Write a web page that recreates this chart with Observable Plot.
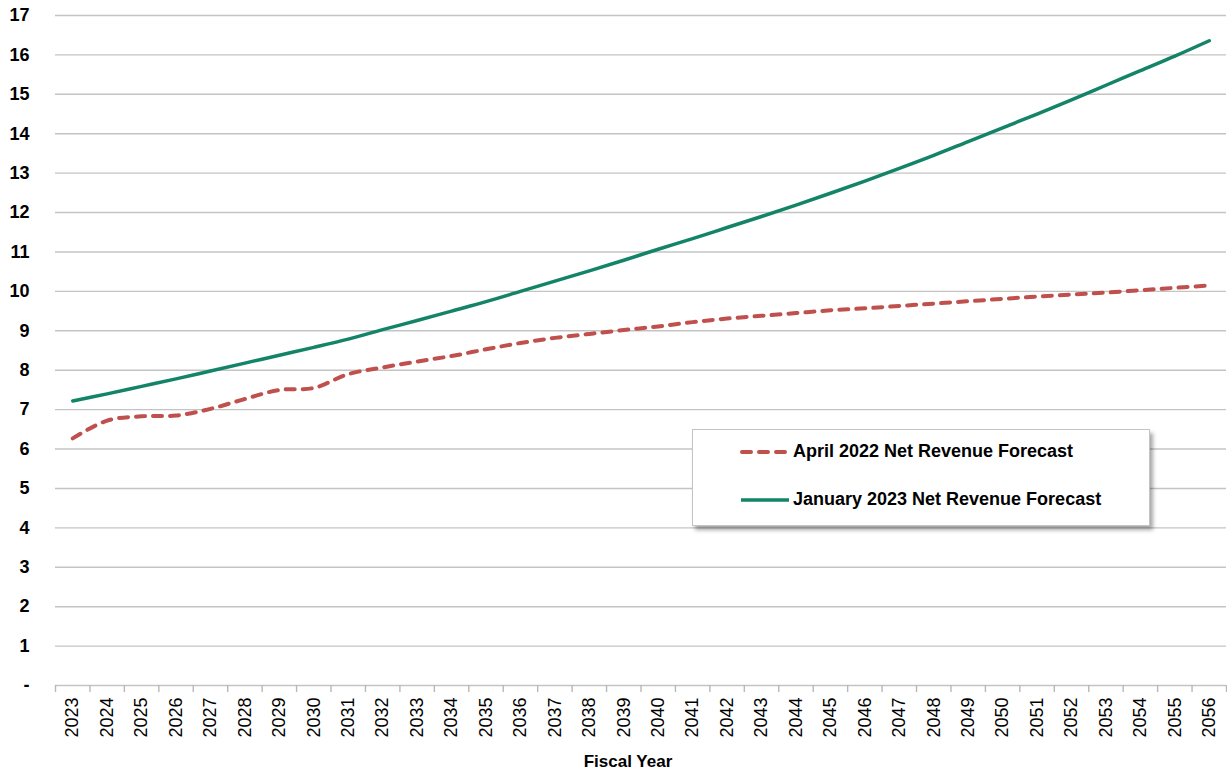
<!DOCTYPE html>
<html>
<head>
<meta charset="utf-8">
<script src="https://cdn.jsdelivr.net/npm/d3@7"></script>
<script src="https://cdn.jsdelivr.net/npm/@observablehq/plot@0.6"></script>
<style>
  html, body { margin: 0; padding: 0; background: #fff; }
  #wrap { position: relative; width: 1227px; height: 779px; font-family: "Liberation Sans", Arial, sans-serif; }
  #legend { position: absolute; left: 692px; top: 429px; width: 456px; height: 95px; background: #fff;
            border: 1px solid #c4c4c4; box-shadow: 3px 4px 4px rgba(0,0,0,0.35); }
  .item { position: absolute; left: 47px; display: flex; align-items: center; font-weight: bold; font-size: 18px; color: #000; }
  .item svg { margin-right: 3px; }
</style>
</head>
<body>
<div id="wrap"></div>
<script>
const years = d3.range(2023, 2057);
const april2022 = [6.27, 6.72, 6.83, 6.85, 7.02, 7.27, 7.50, 7.55, 7.90, 8.07, 8.22, 8.36, 8.53, 8.69, 8.82, 8.92, 9.02, 9.11, 9.22, 9.31, 9.38, 9.45, 9.52, 9.57, 9.63, 9.69, 9.75, 9.81, 9.87, 9.92, 9.97, 10.03, 10.09, 10.15];
const january2023 = [7.22, 7.40, 7.59, 7.78, 7.98, 8.18, 8.38, 8.58, 8.79, 9.03, 9.26, 9.50, 9.74, 10.00, 10.26, 10.52, 10.79, 11.07, 11.34, 11.62, 11.90, 12.19, 12.49, 12.80, 13.12, 13.45, 13.80, 14.15, 14.50, 14.86, 15.23, 15.60, 15.97, 16.36];
const seriesNames = ["April 2022 Net Revenue Forecast", "January 2023 Net Revenue Forecast"];
const yTicks = d3.range(0, 18);
const xBoundaries = d3.range(2022.5, 2057, 1);
const xTitle = "Fiscal Year";

const redColor = "#c0504d";
const greenColor = "#138468";

const dataApril = years.map((y, i) => ({year: y, value: april2022[i]}));
const dataJan = years.map((y, i) => ({year: y, value: january2023[i]}));

const chart = Plot.plot({
  width: 1227,
  height: 779,
  marginLeft: 55,
  marginRight: 1,
  marginTop: 15,
  marginBottom: 94,
  style: {fontFamily: "'Liberation Sans', Arial, sans-serif", background: "#fff", color: "#000"},
  x: {type: "linear", domain: [2022.5, 2056.5]},
  y: {domain: [0, 17]},
  marks: [
    Plot.ruleY(yTicks, {stroke: "#c4c4c4", strokeWidth: 1.4}),
    Plot.axisY({ticks: yTicks, tickSize: 0, tickPadding: 26, fontSize: 18, fontWeight: "bold",
                tickFormat: d => d === 0 ? "-" : String(d), label: null}),
    Plot.axisX({ticks: xBoundaries, tickSize: 7, stroke: "#b8b8b8", strokeWidth: 1.4, tickFormat: () => "", label: null}),
    Plot.axisX({ticks: years, tickSize: 0, tickPadding: 12, tickRotate: -90, fontSize: 18,
                tickFormat: d => String(d), label: null}),
    Plot.text([xTitle], {frameAnchor: "bottom", dy: 81, dx: -13, fontSize: 17, fontWeight: "bold", fill: "#000"}),
    Plot.line(dataApril, {x: "year", y: "value", stroke: redColor, strokeWidth: 4,
                          strokeDasharray: "9,8", strokeLinecap: "round", curve: "catmull-rom"}),
    Plot.line(dataJan, {x: "year", y: "value", stroke: greenColor, strokeWidth: 3.5, curve: "catmull-rom"})
  ]
});

const wrap = document.getElementById("wrap");
wrap.appendChild(chart);

const legend = document.createElement("div");
legend.id = "legend";
legend.innerHTML = `
  <div class="item" style="top:11px">
    <svg width="50" height="8"><line x1="2" y1="4" x2="48" y2="4" stroke="${redColor}" stroke-width="4" stroke-dasharray="9,8" stroke-linecap="round"/></svg>${seriesNames[0]}</div>
  <div class="item" style="top:59px">
    <svg width="50" height="8"><line x1="1" y1="4" x2="49" y2="4" stroke="${greenColor}" stroke-width="3.5"/></svg>${seriesNames[1]}</div>`;
wrap.appendChild(legend);
</script>
</body>
</html>
